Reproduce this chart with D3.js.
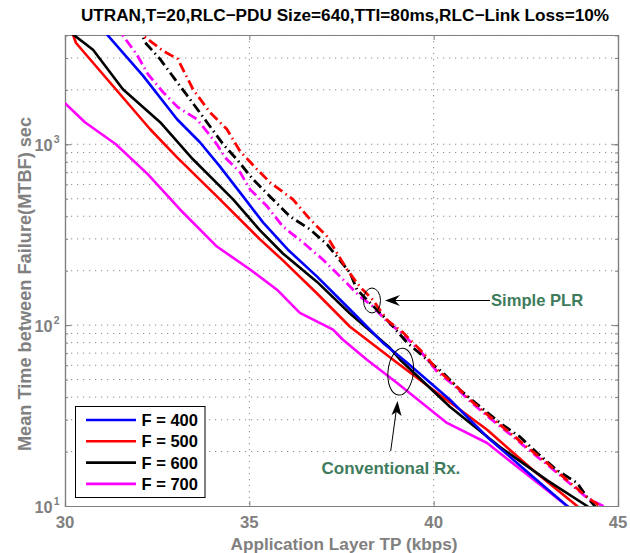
<!DOCTYPE html>
<html><head><meta charset="utf-8">
<script src="https://cdn.jsdelivr.net/npm/d3@7"></script>
<style>body{margin:0;background:#fff}svg{display:block}text{font-family:"Liberation Sans",Arial,Helvetica,sans-serif;font-weight:bold}</style>
</head><body><svg id="c" width="630" height="553"></svg>
<script>
const title = "UTRAN,T=20,RLC\u2212PDU Size=640,TTI=80ms,RLC\u2212Link Loss=10%";
const xLabel = "Application Layer TP (kbps)";
const yLabel = "Mean Time between Failure(MTBF) sec";
const xTicks = [30, 35, 40, 45];
const yTickExp = [1, 2, 3];
const legendLabels = ["F = 400", "F = 500", "F = 600", "F = 700"];
const colors = ["#0000ff", "#ff0000", "#000000", "#ff00ff"];

// Conventional Rx. (solid)
const convF400 = [[31.0,4700],[31.13,4066],[32.12,2390],[33.04,1376],[33.66,1026],[34.2,755],[34.83,515],[35.37,370],[36.04,262],[36.83,186],[37.73,122],[38.62,80],[39.28,62],[40.44,38.7],[41.45,24.1],[42.69,14.5],[43.62,10],[43.8,9.3]];
const convF500 = [[30.17,4700],[30.21,4066],[30.3,3631],[32.31,1211],[33.04,847],[34.12,515],[35.29,298],[35.91,228],[36.83,150],[37.73,98],[38.9,64.4],[39.98,43.9],[41.45,26.4],[42.69,15.8],[43.89,10],[44.0,9.5]];
const convF600 = [[30.1,4700],[30.21,4066],[30.76,3330],[31.57,2017],[32.58,1324],[33.47,826],[34.56,496],[35.29,334],[35.91,249],[36.83,174],[37.73,116],[38.81,75],[39.09,64.4],[40.44,35.4],[41.8,21.2],[43.07,13.9],[44.16,10],[44.3,9.5]];
const convF700 = [[30.0,1687],[30.54,1324],[31.38,1000],[32.25,682],[33.12,436],[34.12,272],[35.02,203],[35.75,157],[36.37,117],[37.27,94.4],[37.54,83],[38.19,64.4],[39.0,48],[40.36,28.8],[41.45,22.3],[42.61,14.5],[43.62,10],[43.8,9.5]];
// Simple PLR (dash-dot)
const plrF500 = [[32.0,4600],[32.12,3981],[32.66,3288],[33.06,2958],[33.47,2017],[33.93,1504],[34.39,1211],[34.75,915],[35.21,727],[35.56,616],[36.18,496],[36.65,384],[37.11,309],[37.65,203],[38.0,163],[38.35,138],[38.73,107],[39.17,90.9],[39.71,70.4],[40.09,56.7],[40.52,48],[40.98,38.7],[41.53,31.1],[42.07,25.4],[42.53,21.2],[43.07,17.3],[43.62,13.9],[44.16,11.2],[44.51,10],[44.6,9.6]];
const plrF600 = [[32.0,4600],[32.17,3657],[32.58,2958],[32.98,2291],[33.39,1775],[33.85,1324],[34.29,1000],[34.66,826],[35.1,640],[35.56,515],[36.1,399],[36.65,338],[37.11,279],[37.73,195],[37.92,157],[38.81,103],[39.28,80],[39.82,64.4],[40.25,54.6],[40.71,43.9],[41.26,35.4],[41.8,28.8],[42.34,24.1],[42.8,19.7],[43.34,15.8],[43.89,13.4],[44.16,11.2],[44.37,10],[44.45,9.6]];
const plrF700 = [[31.4,4700],[31.54,4066],[31.94,3152],[32.25,2442],[32.66,1941],[33.06,1603],[33.58,1376],[34.12,1000],[34.34,847],[34.75,699],[35.02,563],[35.48,454],[35.91,351],[36.46,286],[37.0,230],[37.54,179],[38.0,144],[38.35,127],[38.73,105],[39.17,89],[39.71,69],[40.09,55.5],[40.52,47],[40.98,38],[41.53,30.5],[42.07,25],[42.53,20.8],[43.07,17],[43.62,13.7],[44.16,11.1],[44.59,10],[44.7,9.6]];

const svg = d3.select("#c");
const L = 65, R = 618, T = 35, B = 506;
const x = d3.scaleLinear().domain([30, 45]).range([L, R]);
const y = d3.scaleLog().domain([10, 4020]).range([B, T]);
const gray = "#808080";

svg.append("defs").append("clipPath").attr("id", "clip")
  .append("rect").attr("x", L).attr("y", T).attr("width", R - L).attr("height", B - T);

// grid
const yGrid = [];
for (let e = 1; e <= 3; e++) for (let m = 1; m <= 9; m++) { const v = m * Math.pow(10, e); if (v > 10 && v <= 4000) yGrid.push(v); }
svg.append("g").selectAll("line").data(yGrid).join("line")
  .attr("x1", L).attr("x2", R).attr("y1", d => y(d)).attr("y2", d => y(d))
  .attr("stroke", "#8a8a8a").attr("stroke-width", 1).attr("stroke-dasharray", "1.2,4.8");
svg.append("g").selectAll("line").data(xTicks.slice(1, -1)).join("line")
  .attr("x1", d => x(d)).attr("x2", d => x(d)).attr("y1", T).attr("y2", B)
  .attr("stroke", "#8a8a8a").attr("stroke-width", 1).attr("stroke-dasharray", "1.2,4.8");

// axes with inward ticks on all sides
const axB = d3.axisBottom(x).tickValues(xTicks).tickSize(-5).tickFormat("");
const axT = d3.axisTop(x).tickValues(xTicks).tickSize(-5).tickFormat("");
const axL = d3.axisLeft(y).tickValues(yGrid.concat([10])).tickSize(-3).tickFormat("");
const axR = d3.axisRight(y).tickValues(yGrid.concat([10])).tickSize(-3).tickFormat("");
const majors = yTickExp.map(e => Math.pow(10, e));
const axL2 = d3.axisLeft(y).tickValues(majors).tickSize(-6).tickFormat("");
const axR2 = d3.axisRight(y).tickValues(majors).tickSize(-6).tickFormat("");
[[axB, `translate(0,${B})`], [axT, `translate(0,${T})`], [axL, `translate(${L},0)`], [axR, `translate(${R},0)`], [axL2, `translate(${L},0)`], [axR2, `translate(${R},0)`]].forEach(([a, t]) => {
  const g = svg.append("g").attr("transform", t).call(a);
  g.selectAll("line").attr("stroke", gray);
  g.select(".domain").attr("stroke", gray).attr("stroke-width", 1.2);
});

// tick labels
svg.append("g").selectAll("text").data(xTicks).join("text")
  .attr("x", d => x(d)).attr("y", 528).attr("text-anchor", "middle")
  .attr("font-size", 16.8).attr("fill", gray).text(d => d);
const yl = svg.append("g").selectAll("text").data(yTickExp).join("text")
  .attr("x", 34.5).attr("y", d => y(Math.pow(10, d)) + 7)
  .attr("font-size", 16.3).attr("fill", gray);
yl.text("10");
yl.append("tspan").attr("font-size", 10.5).attr("dy", -8).attr("dx", 1).text(d => d);

// axis labels & title
svg.append("text").attr("x", 344).attr("y", 550).attr("text-anchor", "middle")
  .attr("font-size", 17.2).attr("fill", gray).text(xLabel);
svg.append("text").attr("transform", "translate(31,284) rotate(-90)").attr("text-anchor", "middle")
  .attr("font-size", 18.2).attr("fill", gray).text(yLabel);
svg.append("text").attr("x", 345).attr("y", 21).attr("text-anchor", "middle")
  .attr("font-size", 17.2).attr("fill", "#000").text(title);

// lines
const line = d3.line().x(d => x(d[0])).y(d => y(d[1]));
const plot = svg.append("g").attr("clip-path", "url(#clip)");
const plr = [[plrF700, colors[3]], [plrF600, colors[2]], [plrF500, colors[1]]];
plr.forEach(([data, c]) => plot.append("path").datum(data).attr("d", line)
  .attr("fill", "none").attr("stroke", c).attr("stroke-width", 2.8).attr("stroke-dasharray", "10,4,1.5,4"));
const conv = [convF700, convF500, convF600, convF400];
const convC = [colors[3], colors[1], colors[2], colors[0]];
conv.forEach((data, i) => plot.append("path").datum(data).attr("d", line)
  .attr("fill", "none").attr("stroke", convC[i]).attr("stroke-width", 2.6).attr("stroke-linejoin", "round"));

// annotations
const green = "#3e7b5c";
svg.append("ellipse").attr("cx", 372).attr("cy", 300.5).attr("rx", 8.5).attr("ry", 12.5)
  .attr("fill", "none").attr("stroke", "#000").attr("stroke-width", 1);
svg.append("line").attr("x1", 490).attr("y1", 300.5).attr("x2", 392).attr("y2", 300.5).attr("stroke", "#000").attr("stroke-width", 1);
svg.append("path").attr("d", "M385,300.5 L400,295 L395,300.5 L400,306 Z").attr("fill", "#000");
svg.append("text").attr("x", 491).attr("y", 306).attr("font-size", 16.6).attr("fill", green).text("Simple PLR");

svg.append("ellipse").attr("cx", 400.7).attr("cy", 371.7).attr("rx", 12.7).attr("ry", 23.5)
  .attr("transform", "rotate(6,400.7,371.7)")
  .attr("fill", "none").attr("stroke", "#000").attr("stroke-width", 1);
svg.append("line").attr("x1", 390.7).attr("y1", 451).attr("x2", 396.6).attr("y2", 408).attr("stroke", "#000").attr("stroke-width", 1);
svg.append("path").attr("d", "M397.5,401 L401.5,416 L396.6,412 L391.5,415 Z").attr("fill", "#000");
svg.append("text").attr("x", 321.5).attr("y", 473.5).attr("font-size", 17).attr("fill", green).text("Conventional Rx.");

// legend
const lg = svg.append("g");
lg.append("rect").attr("x", 75.5).attr("y", 406.5).attr("width", 129.5).attr("height", 91)
  .attr("fill", "#fff").attr("stroke", "#000").attr("stroke-width", 1);
legendLabels.forEach((lab, i) => {
  const yy = 420 + i * 21.3;
  lg.append("line").attr("x1", 86).attr("x2", 136).attr("y1", yy).attr("y2", yy).attr("stroke", colors[i]).attr("stroke-width", 2.6);
  lg.append("text").attr("x", 141.5).attr("y", yy + 6).attr("font-size", 16.5).attr("fill", "#000").text(lab);
});
</script></body></html>
